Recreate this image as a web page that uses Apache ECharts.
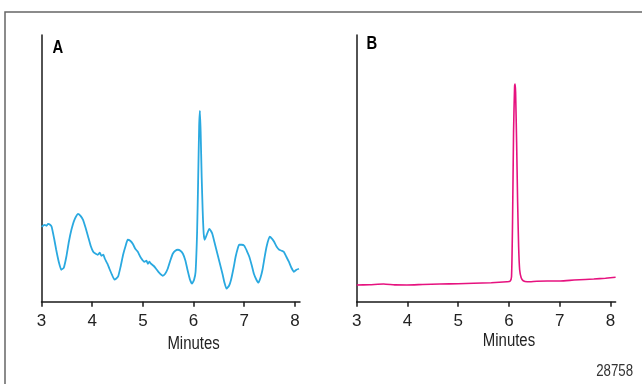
<!DOCTYPE html>
<html>
<head>
<meta charset="utf-8">
<script src="https://cdn.jsdelivr.net/npm/echarts@6/dist/echarts.min.js"></script>
<style>
html,body{margin:0;padding:0;background:#fff;}
#c{width:642px;height:384px;}
</style>
</head>
<body>
<div id="c"></div>
<script>
// ---- Data (minutes, detector response in arbitrary units) ----
const xTicks = [3, 4, 5, 6, 7, 8];
const panelLabels = ['A', 'B'];
const axisTitle = 'Minutes';
const figureId = '28758';

const timeA = [3.00,3.03,3.06,3.10,3.13,3.17,3.20,3.25,3.29,3.34,3.39,3.44,3.49,3.54,3.59,3.65,3.72,3.77,3.82,3.87,3.92,3.97,4.02,4.07,4.11,4.15,4.18,4.22,4.25,4.30,4.34,4.39,4.44,4.51,4.56,4.61,4.66,4.70,4.75,4.80,4.85,4.90,4.96,5.03,5.07,5.10,5.13,5.16,5.21,5.26,5.32,5.39,5.44,5.49,5.54,5.59,5.64,5.69,5.74,5.79,5.84,5.88,5.93,5.97,6.01,6.04,6.07,6.09,6.11,6.125,6.14,6.16,6.18,6.20,6.22,6.26,6.31,6.34,6.37,6.42,6.47,6.52,6.57,6.61,6.65,6.70,6.74,6.79,6.83,6.87,6.90,6.95,7.00,7.05,7.10,7.15,7.19,7.24,7.28,7.32,7.36,7.40,7.44,7.50,7.55,7.59,7.64,7.69,7.74,7.78,7.83,7.88,7.93,7.98,8.03,8.08];
const signalA = [75,76,77,76,78,77,75,63,52,40,32,34,45,60,72,82,88,86,82,74,65,56,50,48,47,49,46,47,43,38,33,27,22,25,35,47,56,62,61,58,53,50,44,40,41,38,40,38,36,33,29,26,28,33,41,48,51,52,51,48,41,32,22,18,22,30,70,120,175,191,170,125,91,68,62,67,73,71,68,58,48,38,28,19,13,16,22,34,45,53,57,57,56,51,45,36,28,22,19,24,32,44,55,65,63,60,55,52,51,50,45,40,34,30,32,33];

const timeB = [3.00,3.25,3.53,3.75,3.99,4.30,4.64,5.00,5.30,5.65,5.96,6.02,6.05,6.07,6.09,6.11,6.12,6.13,6.15,6.17,6.19,6.21,6.24,6.28,6.36,6.55,6.75,7.01,7.28,7.50,7.67,7.90,8.10];
const signalB = [16.7,17.0,17.7,16.8,16.7,17.2,17.7,18.0,18.4,19.0,20.0,20.5,25,80,170,215,218,210,160,100,55,32,24,21,20,20.5,20.7,20.7,21.7,22.3,22.7,23.5,24.4];

const yMax = 267;
const colorA = '#2aa9e0';
const colorB = '#e6127f';

function pairs(t, v){ return t.map((x,i)=>[x, v[i]]); }

const FONT = '"Liberation Sans", Arial, sans-serif';
const axisColor = '#1a1a1a';

function xAxis(idx){
  return {
    type:'value', gridIndex: idx, min: 3, max: 8.1, interval: 1,
    axisLine:{show:true, onZero:false, lineStyle:{color:axisColor, width:1.5}},
    axisTick:{show:true, length:5, customValues: xTicks, lineStyle:{color:axisColor, width:1.5}},
    axisLabel:{show:true, customValues: xTicks, margin:11, fontFamily:FONT, fontSize:17, color:'#222'},
    splitLine:{show:false}
  };
}
function yAxis(idx){
  return {
    type:'value', gridIndex: idx, min:0, max:yMax,
    axisLine:{show:true, lineStyle:{color:axisColor, width:1.5}},
    axisTick:{show:false}, axisLabel:{show:false}, splitLine:{show:false}
  };
}

const chart = echarts.init(document.getElementById('c'), null, {renderer:'canvas'});
const option = {
  animation:false,
  backgroundColor:'#fff',
  grid:[
    {left:41.5, right:342, top:35, bottom:82.3},
    {left:356.7, right:26.4, top:35, bottom:82.3}
  ],
  xAxis:[xAxis(0), xAxis(1)],
  yAxis:[yAxis(0), yAxis(1)],
  series:[
    {type:'line', xAxisIndex:0, yAxisIndex:0, data:pairs(timeA, signalA), showSymbol:false, smooth:0.15,
     lineStyle:{color:colorA, width:1.8}},
    {type:'line', xAxisIndex:1, yAxisIndex:1, data:pairs(timeB, signalB), showSymbol:false, smooth:0.2,
     lineStyle:{color:colorB, width:1.6}}
  ]
};
chart.setOption(option);

const pA = chart.convertToPixel({xAxisIndex:0}, 6);
const pB = chart.convertToPixel({xAxisIndex:1}, 6);
chart.setOption({
  graphic:[
    {type:'rect', shape:{x:5, y:12, width:700, height:400}, style:{fill:null, stroke:'#666', lineWidth:1.5}, silent:true},
    {type:'text', x:52.5, y:38, scaleX:0.78, style:{text:panelLabels[0], font:'bold 19px ' + FONT, fill:'#000'}},
    {type:'text', x:366.5, y:34, scaleX:0.78, style:{text:panelLabels[1], font:'bold 19px ' + FONT, fill:'#000'}},
    {type:'text', x:pA, y:344, scaleX:0.83, style:{text:axisTitle, font:'18px ' + FONT, fill:'#222', align:'center', verticalAlign:'middle'}},
    {type:'text', x:pB, y:341, scaleX:0.83, style:{text:axisTitle, font:'18px ' + FONT, fill:'#222', align:'center', verticalAlign:'middle'}},
    {type:'text', x:633, y:371, scaleX:0.78, style:{text:figureId, font:'17px ' + FONT, fill:'#333', align:'right', verticalAlign:'middle'}}
  ]
});
</script>
</body>
</html>
